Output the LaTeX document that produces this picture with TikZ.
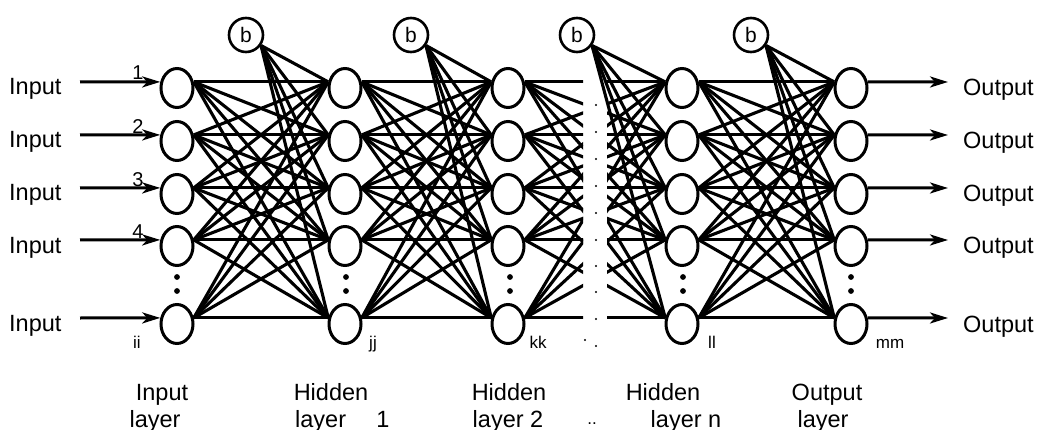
\documentclass[tikz,border=0pt]{standalone}
\usepackage{fontspec}
\setmainfont{Liberation Sans}
\usetikzlibrary{arrows.meta,shapes.geometric}
\begin{document}
\begin{tikzpicture}[x=1pt,y=-1pt,
  neuron/.style={draw,line width=3pt,ellipse,minimum width=32pt,minimum height=39pt,inner sep=0pt},
  biasnode/.style={draw,line width=2.6pt,circle,minimum size=34pt,inner sep=0pt,font=\fontsize{21}{22}\selectfont},
  conn/.style={line width=3.1pt},
  arr/.style={line width=3pt,-{Stealth[length=18pt,width=11pt,inset=5pt]}},
  lbl/.style={font=\fontsize{23.5}{26}\selectfont,inner sep=0pt},
  num/.style={font=\fontsize{20}{21}\selectfont,inner sep=0pt},
  sub/.style={font=\fontsize{17}{18}\selectfont,inner sep=0pt}]
\useasboundingbox (0,0) rectangle (1043,430);
\fill[white] (0,0) rectangle (1043,430);

% neurons
\foreach \l/\x in {1/177,2/345,3/508,4/682,5/851}{
  \foreach \r/\y in {1/88,2/141,3/194,4/246,5/324}{
    \node[neuron] (n\l-\r) at (\x,\y) {};
  }
}
% bias nodes
\node[biasnode] (b1) at (246,35) {b};
\node[biasnode] (b2) at (411,35) {b};
\node[biasnode] (b3) at (577,35) {b};
\node[biasnode] (b4) at (751,35) {b};

% full connections
\foreach \a/\b in {1/2,2/3,4/5}{
  \foreach \i in {1,...,5}{
    \foreach \j in {1,...,5}{
      \draw[conn] (n\a-\i.20) -- (n\b-\j.160);
    }
  }
}
% broken connections between hidden layer 2 and hidden layer n
\begin{scope}
  \clip (0,0) rectangle (583,430);
  \foreach \i in {1,...,5}{
    \foreach \j in {1,...,5}{
      \draw[conn] (n3-\i.20) -- (n4-\j.160);
    }
  }
\end{scope}
\begin{scope}
  \clip (607,0) rectangle (1043,430);
  \foreach \i in {1,...,5}{
    \foreach \j in {1,...,5}{
      \draw[conn] (n3-\i.20) -- (n4-\j.160);
    }
  }
\end{scope}
% bias connections
\foreach \k/\t in {1/2,2/3,3/4,4/5}{
  \foreach \j in {1,...,5}{
    \draw[conn] (b\k.-35) -- (n\t-\j.160);
  }
}

% input arrows and labels
\foreach \r/\y in {1/82,2/135,3/188,4/240,5/318}{
  \coordinate (s\r) at (80,\y);
  \coordinate (e\r) at (948,\y);
  \draw[arr] (s\r) -- (n1-\r.160);
  \draw[arr] (n5-\r.20) -- (e\r);
  \node[lbl,anchor=base west] (inl\r) at (9,\y+13) {Input};
  \node[lbl,anchor=base west] (outl\r) at (963,\y+14) {Output};
}
\node[num,anchor=base] (k1) at (138,80) {1};
\node[num,anchor=base] (k2) at (138,134) {2};
\node[num,anchor=base] (k3) at (138,187) {3};
\node[num,anchor=base] (k4) at (138,239) {4};
\node[sub,anchor=base] (ii) at (137,348) {ii};
\node[sub,anchor=base] (jj) at (373,348) {jj};
\node[sub,anchor=base] (kk) at (538,348) {kk};
\node[sub,anchor=base] (ll) at (712,348) {ll};
\node[sub,anchor=base] (mm) at (890,348) {mm};

% vertical dots
\foreach \x in {177,346,510,683,851}{
  \fill (\x,277) circle (2.9);
  \fill (\x,291) circle (2.9);
}
\foreach \y in {105,132,159,186,213,240,266,292,319,346}{
  \fill (596,\y) circle (1.2);
}
\fill (585,340) circle (1.2);

% layer labels
\node[lbl,anchor=base] (t1a) at (162,400) {Input};
\node[lbl,anchor=base] (t1b) at (155,427) {layer};
\node[lbl,anchor=base] (t2a) at (331,400) {Hidden};
\node[lbl,anchor=base west] (t2b) at (295,427) {layer};
\node[lbl,anchor=base] (t2c) at (383,427) {1};
\node[lbl,anchor=base] (t3a) at (509,400) {Hidden};
\node[lbl,anchor=base] (t3b) at (508,427) {layer 2};
\node[lbl,anchor=base] (t4a) at (663,400) {Hidden};
\node[lbl,anchor=base] (t4b) at (686,427) {layer n};
\node[lbl,anchor=base] (t5a) at (827,400) {Output};
\node[lbl,anchor=base] (t5b) at (823,427) {layer};
\node[sub,anchor=base] (dd) at (592,424) {..};
\end{tikzpicture}
\end{document}
